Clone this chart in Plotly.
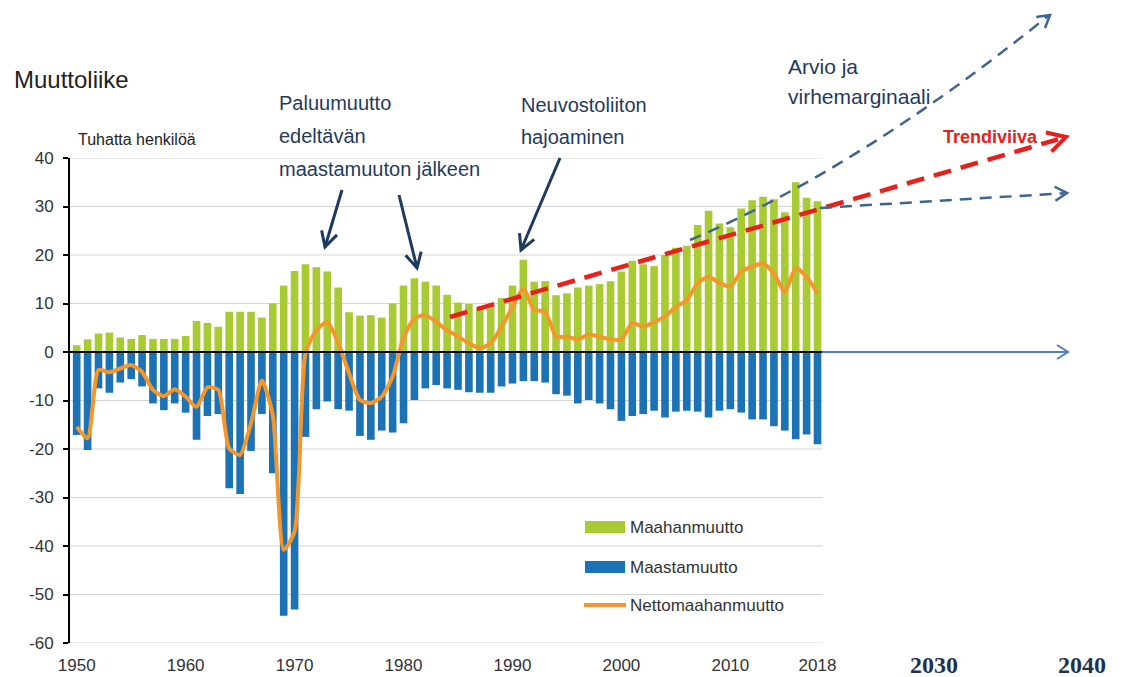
import math
import plotly.graph_objects as go

# ---------------- data (thousands of persons) ----------------
years = list(range(1950, 2019))

maahanmuutto = [
    1.4, 2.6, 3.8, 4.0, 3.0, 2.7, 3.5, 2.7, 2.7, 2.7,
    3.3, 6.4, 6.0, 5.2, 8.3, 8.3, 8.3, 7.1, 10.0, 13.7,
    16.7, 18.1, 17.5, 16.6, 13.3, 8.2, 7.5, 7.6, 7.1, 10.0,
    13.7, 15.2, 14.5, 13.7, 11.8, 10.2, 9.9, 9.0, 9.3, 11.1,
    13.7, 19.0, 14.5, 14.6, 11.7, 12.1, 13.3, 13.7, 14.0, 14.6,
    16.6, 18.8, 18.1, 17.7, 20.0, 21.5, 21.9, 26.2, 29.1, 26.5,
    25.7, 29.6, 31.3, 32.0, 31.5, 28.8, 35.0, 31.8, 31.1,
]

maastamuutto = [
    -17.1, -20.2, -7.5, -8.4, -6.3, -5.6, -7.1, -10.6, -12.0, -10.6,
    -12.5, -18.1, -13.2, -12.8, -28.1, -29.3, -20.4, -12.8, -25.0, -54.4,
    -53.1, -17.5, -11.8, -10.2, -11.8, -12.1, -17.3, -18.1, -16.2, -16.6,
    -14.7, -9.9, -7.5, -6.8, -7.5, -7.8, -8.3, -8.4, -8.4, -7.1,
    -6.5, -6.0, -6.0, -6.3, -8.7, -9.0, -10.6, -9.9, -10.6, -11.8,
    -14.2, -13.2, -12.8, -12.1, -13.5, -12.3, -12.1, -12.3, -13.5, -12.1,
    -11.8, -12.5, -13.9, -13.9, -15.3, -16.2, -18.0, -17.0, -19.0,
]

nettomaahanmuutto = [
    -15.4, -17.8, -3.7, -4.2, -3.4, -2.7, -4.1, -7.8, -9.1, -7.7,
    -9.2, -11.3, -7.3, -7.8, -19.9, -21.2, -14.7, -5.8, -13.0, -40.8,
    -37.0, -0.2, 4.5, 6.2, 1.9, -4.4, -9.9, -10.5, -9.2, -5.1,
    3.0, 6.9, 7.6, 6.2, 4.5, 3.2, 1.8, 0.8, 1.8, 5.2,
    9.3, 13.1, 8.7, 8.3, 3.2, 3.2, 2.6, 3.6, 3.2, 2.6,
    2.6, 6.0, 5.2, 6.2, 7.3, 9.3, 10.7, 14.2, 15.5, 14.2,
    13.5, 16.6, 17.6, 18.3, 16.2, 12.4, 17.3, 15.5, 12.1,
]

x_tick_years = [1950, 1960, 1970, 1980, 1990, 2000, 2010, 2018]
y_ticks = [40, 30, 20, 10, 0, -10, -20, -30, -40, -50, -60]
y_tick_text = ["40", "30", "20", "10", "0", "-10", "-20", "-30", "-40", "-50", "-60"]
future_labels = ["2030", "2040"]
series_names = ["Maahanmuutto", "Maastamuutto", "Nettomaahanmuutto"]

# ---------------- styling ----------------
GREEN = "#A8CB34"
BLUE = "#1B72B5"
ORANGE = "#F5962A"
NAVY = "#1F3A5F"
RED = "#E8201A"
PROJ_BLUE = "#3E6591"
TXT = "#333333"
SANS = "Liberation Sans, Arial, sans-serif"

W, H = 1128, 677
PL, PR, PT, PB = 70, 1110, 158, 643
PX_PER_YEAR = (817.5 - 76.7) / 68
X0 = 1950 - (76.7 - PL) / PX_PER_YEAR
X1 = 2018 + (PR - 817.5) / PX_PER_YEAR


def fx(px):
    return (px - PL) / (PR - PL)


def fy(py):
    return (PB - py) / (PB - PT)


fig = go.Figure()
fig.add_trace(go.Bar(x=years, y=maahanmuutto, name=series_names[0],
                     marker=dict(color=GREEN, line=dict(width=0))))
fig.add_trace(go.Bar(x=years, y=maastamuutto, name=series_names[1],
                     marker=dict(color=BLUE, line=dict(width=0))))
fig.add_trace(go.Scatter(x=years, y=nettomaahanmuutto, name=series_names[2],
                         mode="lines",
                         line=dict(color=ORANGE, width=4, shape="spline", smoothing=0.6)))

shapes = []
# gridlines (only over the historical part)
for v in y_ticks:
    shapes.append(dict(type="line", xref="x", yref="y", x0=X0, x1=2018.45, y0=v, y1=v,
                       line=dict(color="#D3D3D3", width=1), layer="below"))
# black zero line
shapes.append(dict(type="line", xref="x", yref="y", x0=X0, x1=2018.45, y0=0, y1=0,
                   line=dict(color="black", width=2), layer="above"))


def seg(p, q, color, width, dash=None):
    d = dict(type="line", xref="paper", yref="paper",
             x0=fx(p[0]), y0=fy(p[1]), x1=fx(q[0]), y1=fy(q[1]),
             line=dict(color=color, width=width), layer="above")
    if dash:
        d["line"]["dash"] = dash
    return d


def chevron(tip, frm, L, Wd, color, width):
    dx, dy = tip[0] - frm[0], tip[1] - frm[1]
    n = math.hypot(dx, dy)
    ux, uy = dx / n, dy / n
    nx, ny = -uy, ux
    a = (tip[0] - L * ux + Wd * nx, tip[1] - L * uy + Wd * ny)
    b = (tip[0] - L * ux - Wd * nx, tip[1] - L * uy - Wd * ny)
    path = "M {:.5f},{:.5f} L {:.5f},{:.5f} L {:.5f},{:.5f}".format(
        fx(a[0]), fy(a[1]), fx(tip[0]), fy(tip[1]), fx(b[0]), fy(b[1]))
    return dict(type="path", xref="paper", yref="paper", path=path,
                line=dict(color=color, width=width), layer="above")


# zero-line continuation arrow
shapes.append(seg((822, 352), (1066, 352), "#4F7FBF", 2))
shapes.append(chevron((1068, 352), (822, 352), 11, 7, "#4F7FBF", 2))

# navy pointer arrows
for tail, tip in [((342, 190), (325, 247)), ((399, 195), (417, 268)), ((560, 158), (521, 250))]:
    shapes.append(seg(tail, tip, NAVY, 3))
    shapes.append(chevron(tip, tail, 15, 8, NAVY, 3))

# red trend line
shapes.append(seg((450, 317), (1058, 139.3), RED, 4.5, "18px,10px"))
shapes.append(chevron((1066, 137), (450, 317), 18, 10, RED, 4))

# lower projection
shapes.append(seg((820, 208), (1064, 193.2), PROJ_BLUE, 2.5, "12px,8px"))
shapes.append(chevron((1067, 193), (820, 208), 12, 7, PROJ_BLUE, 2.5))

# upper projection (curved)
P0, C, P2 = (690, 240), (860, 168), (1048, 16)
shapes.append(dict(type="path", xref="paper", yref="paper",
                   path="M {:.5f},{:.5f} Q {:.5f},{:.5f} {:.5f},{:.5f}".format(
                       fx(P0[0]), fy(P0[1]), fx(C[0]), fy(C[1]), fx(P2[0]), fy(P2[1])),
                   line=dict(color=PROJ_BLUE, width=2.5, dash="12px,8px"), layer="above"))
shapes.append(chevron((1050, 15), C, 12, 7, PROJ_BLUE, 2.5))

# manual legend swatches
shapes.append(dict(type="rect", xref="paper", yref="paper", x0=fx(585), x1=fx(625),
                   y0=fy(533), y1=fy(521), fillcolor=GREEN, line=dict(width=0), layer="above"))
shapes.append(dict(type="rect", xref="paper", yref="paper", x0=fx(585), x1=fx(625),
                   y0=fy(573), y1=fy(561), fillcolor=BLUE, line=dict(width=0), layer="above"))
shapes.append(seg((584, 605), (626, 605), ORANGE, 4))

ann = []


def text(px, py, s, size, color, family=SANS, xanchor="left"):
    ann.append(dict(x=fx(px), y=fy(py), xref="paper", yref="paper", text=s,
                    showarrow=False, xanchor=xanchor, yanchor="middle",
                    font=dict(size=size, color=color, family=family)))


text(12, 80, "Muuttoliike", 24, "#222222")
text(76, 140, "Tuhatta henkilöä", 16, "#222222")
text(277, 103, "Paluumuutto", 20, NAVY)
text(277, 136, "edeltävän", 20, NAVY)
text(277, 169, "maastamuuton jälkeen", 20, NAVY)
text(519, 105, "Neuvostoliiton", 20, NAVY)
text(519, 137, "hajoaminen", 20, NAVY)
text(786, 66, "Arvio ja", 21, NAVY)
text(786, 96, "virhemarginaali", 21, NAVY)
text(941, 137, "<b>Trendiviiva</b>", 18, RED)
text(628, 527, series_names[0], 17, TXT)
text(628, 567, series_names[1], 17, TXT)
text(628, 605, series_names[2], 17, TXT)
text(934, 665, "<b>" + future_labels[0] + "</b>", 24, "#1F3050",
     family="Liberation Serif, Times New Roman, serif", xanchor="center")
text(1082, 665, "<b>" + future_labels[1] + "</b>", 24, "#1F3050",
     family="Liberation Serif, Times New Roman, serif", xanchor="center")

fig.update_layout(
    width=W, height=H,
    margin=dict(l=PL, r=W - PR, t=PT, b=H - PB, pad=0, autoexpand=False),
    paper_bgcolor="white", plot_bgcolor="white",
    barmode="relative", bargap=0.3,
    showlegend=False,
    font=dict(family=SANS, color=TXT),
    shapes=shapes, annotations=ann,
)
fig.update_xaxes(range=[X0, X1], tickvals=x_tick_years, ticktext=[str(t) for t in x_tick_years],
                 showgrid=False, zeroline=False, showline=False, ticks="", automargin=False,
                 tickfont=dict(size=17, color=TXT), ticklabelstandoff=10)
fig.update_yaxes(range=[-60, 40], tickvals=y_ticks, ticktext=y_tick_text,
                 showgrid=False, zeroline=False, automargin=False,
                 showline=True, linecolor="black", linewidth=2,
                 ticks="outside", ticklen=5, tickwidth=2, tickcolor="black",
                 tickfont=dict(size=17, color=TXT), ticklabelstandoff=6)

fig.write_html("out.html", config={"displayModeBar": False},
               post_script="document.body.style.margin='0';document.body.style.overflow='hidden';")
